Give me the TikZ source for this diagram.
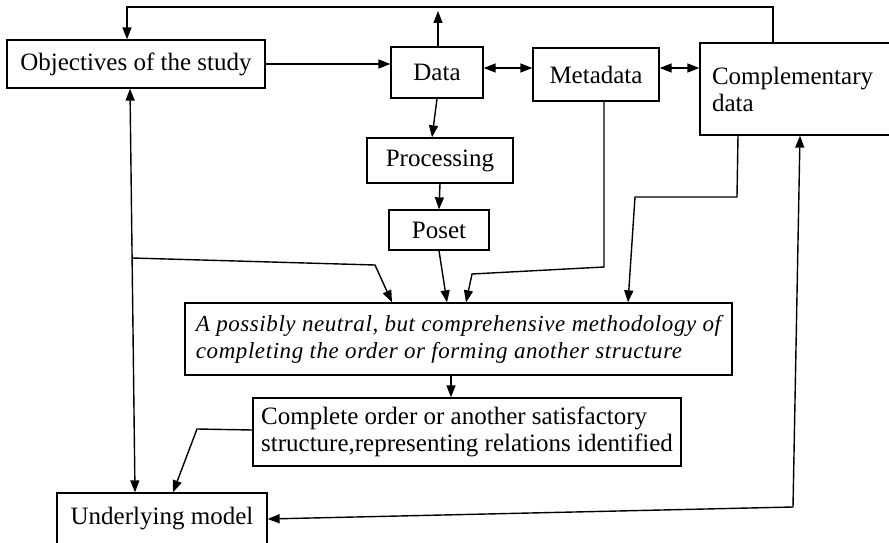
\documentclass[tikz,border=0pt]{standalone}
\usepackage{fontspec}
\setmainfont{Liberation Serif}
\usetikzlibrary{arrows.meta}
\begin{document}
\begin{tikzpicture}[x=1pt,y=-1pt,
  every node/.style={font=\fontsize{25}{27}\selectfont},
  box/.style={draw, line width=1.3pt, rectangle, inner sep=0pt, align=center},
  lbox/.style={draw, line width=1.3pt, rectangle, inner ysep=0pt, align=left},
  tip/.tip={Triangle[length=12pt,width=9pt]},
  link/.style={line width=1.4pt, -tip},
  dlink/.style={line width=1.4pt, tip-tip}]
\useasboundingbox (0,0) rectangle (889,543);
\clip (0,0) rectangle (889,543);

% boxes
\node[box, minimum width=258pt, minimum height=48pt] (obj) at (136,64) {Objectives of the study};
\node[box, minimum width=92pt, minimum height=51pt] (data) at (437,72.5) {Data};
\node[box, minimum width=126pt, minimum height=53pt] (meta) at (596,74.5) {Metadata};
\node[lbox, inner xsep=12pt, text width=181pt, minimum height=92pt] (comp) at (802.5,89) {Complementary\\data};
\node[box, minimum width=146pt, minimum height=45pt] (proc) at (440,160.5) {Processing};
\node[box, minimum width=100pt, minimum height=40pt] (poset) at (439,230) {Poset};
\node[lbox, inner xsep=0pt, minimum width=547pt, minimum height=72pt,
      font=\fontsize{23}{27}\selectfont\itshape\addfontfeatures{LetterSpace=2.5}] (meth) at (458.5,339)
  {A possibly neutral, but comprehensive methodology of\\completing the order or forming another structure};
\node[lbox, inner xsep=0pt, minimum width=428pt, minimum height=68pt] (res) at (467,432)
  {Complete order or another satisfactory\\structure,representing relations identified};
\node[box, minimum width=210pt, minimum height=52pt] (und) at (162,519) {Underlying model};

% route points
\coordinate (t1) at (773,7);
\coordinate (t2) at (127,7);
\coordinate (dup) at (438,11);
\coordinate (ya) at (0,68);
\coordinate (dp) at (432,0);
\coordinate (pm) at (447,0);
\coordinate (lx) at (130,0);
\coordinate (lx2) at (135,0);
\coordinate (b1) at (132,258);
\coordinate (b2) at (375,265);
\coordinate (b3) at (392,0);
\coordinate (m0) at (604,0);
\coordinate (m1) at (604,267);
\coordinate (m2) at (472,274);
\coordinate (m3) at (466,0);
\coordinate (c0) at (738,0);
\coordinate (c1) at (737,197);
\coordinate (c2) at (635,197);
\coordinate (c3) at (628,0);
\coordinate (mr) at (451,0);
\coordinate (r0) at (0,430);
\coordinate (r1) at (197,429);
\coordinate (r2) at (173,0);
\coordinate (u0) at (800,0);
\coordinate (u1) at (793,507);

% connectors
\draw[link] (comp.north -| t1) -- (t1) -- (t2) -- (obj.north -| t2);
\draw[link] (data.north -| dup) -- (dup);
\draw[link] (obj.east) -- (obj.east -| data.west);
\draw[dlink] (data.east |- ya) -- (meta.west |- ya);
\draw[dlink] (meta.east |- ya) -- (comp.west |- ya);
\draw[link] (data.south) -- (proc.north -| dp);
\draw[link] (proc.south) -- (poset.north);
\draw[link] (poset.south) -- (meth.north -| pm);
\draw[dlink] (obj.south -| lx) -- (und.north -| lx2);
\draw[link] (b1) -- (b2) -- (meth.north -| b3);
\draw[link] (meta.south -| m0) -- (m1) -- (m2) -- (meth.north -| m3);
\draw[link] (comp.south -| c0) -- (c1) -- (c2) -- (meth.north -| c3);
\draw[link] (meth.south -| mr) -- (res.north -| mr);
\draw[link] (res.west |- r0) -- (r1) -- (und.north -| r2);
\draw[dlink] (comp.south -| u0) -- (u1) -- (und.east);
\end{tikzpicture}
\end{document}
